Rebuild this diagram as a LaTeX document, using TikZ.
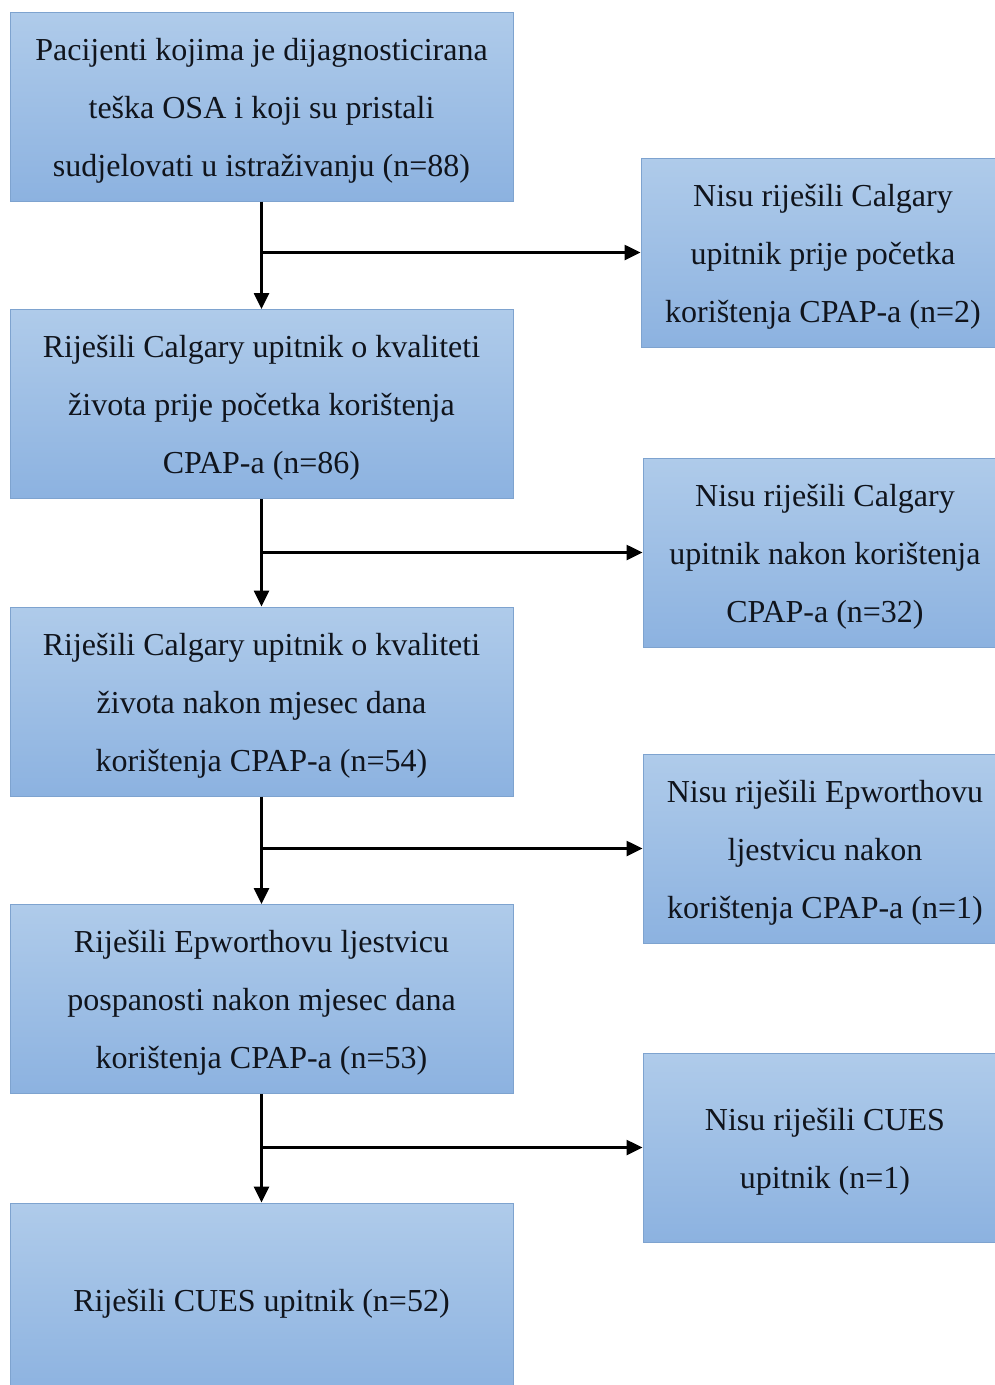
\documentclass[tikz,border=0pt]{standalone}
\usepackage{fontspec}
\setmainfont{Liberation Serif}
\usetikzlibrary{arrows.meta}
\definecolor{boxtop}{HTML}{AFCBEA}
\definecolor{boxbot}{HTML}{8CB2E0}
\definecolor{boxline}{HTML}{7EA3CF}
\definecolor{txt}{HTML}{10141C}
\newcommand\boxtext[1]{\raisebox{-5pt}{\begin{tabular}{@{}c@{}}#1\end{tabular}}}
\tikzset{
  box/.style={draw=boxline, line width=1pt, top color=boxtop, bottom color=boxbot,
    text=txt, inner sep=0pt, font=\fontsize{32}{58}\selectfont},
  lbox/.style={box, minimum width=503pt, minimum height=189pt},
  rbox/.style={box, minimum width=364pt, minimum height=189pt},
  conn/.style={line width=2.6pt, draw=black, -{Triangle[length=16pt,width=15pt]}},
}
\begin{document}
\begin{tikzpicture}[x=1pt,y=-1pt]
\useasboundingbox (0,0) rectangle (995,1385);
\clip (0,0) rectangle (995,1385);
\fill[white] (0,0) rectangle (995,1385);
\node[lbox] (b1) at (261.5,106.5) {\boxtext{Pacijenti kojima je dijagnosticirana\\teška OSA i koji su pristali\\sudjelovati u istraživanju (n=88)}};
\node[lbox] (b2) at (261.5,404) {\boxtext{Riješili Calgary upitnik o kvaliteti\\života prije početka korištenja\\CPAP-a (n=86)}};
\node[lbox] (b3) at (261.5,701.5) {\boxtext{Riješili Calgary upitnik o kvaliteti\\života nakon mjesec dana\\korištenja CPAP-a (n=54)}};
\node[lbox] (b4) at (261.5,999) {\boxtext{Riješili Epworthovu ljestvicu\\pospanosti nakon mjesec dana\\korištenja CPAP-a (n=53)}};
\node[lbox, minimum height=194pt] (b5) at (261.5,1300) {\boxtext{Riješili CUES upitnik (n=52)}};
\node[rbox] (r1) at (823,252.5) {\boxtext{Nisu riješili Calgary\\upitnik prije početka\\korištenja CPAP-a (n=2)}};
\node[rbox] (r2) at (825,552.5) {\boxtext{Nisu riješili Calgary\\upitnik nakon korištenja\\CPAP-a (n=32)}};
\node[rbox] (r3) at (825,848.5) {\boxtext{Nisu riješili Epworthovu\\ljestvicu nakon\\korištenja CPAP-a (n=1)}};
\node[rbox] (r4) at (825,1147.5) {\boxtext{Nisu riješili CUES\\upitnik (n=1)}};
\coordinate (j1) at (b1.south |- r1.west);
\coordinate (j2) at (b2.south |- r2.west);
\coordinate (j3) at (b3.south |- r3.west);
\coordinate (j4) at (b4.south |- r4.west);
\draw[conn] (b1.south) -- (b2.north);
\draw[conn] (b2.south) -- (b3.north);
\draw[conn] (b3.south) -- (b4.north);
\draw[conn] (b4.south) -- (b5.north);
\draw[conn] (j1) -- (r1.west);
\draw[conn] (j2) -- (r2.west);
\draw[conn] (j3) -- (r3.west);
\draw[conn] (j4) -- (r4.west);
\end{tikzpicture}
\end{document}
